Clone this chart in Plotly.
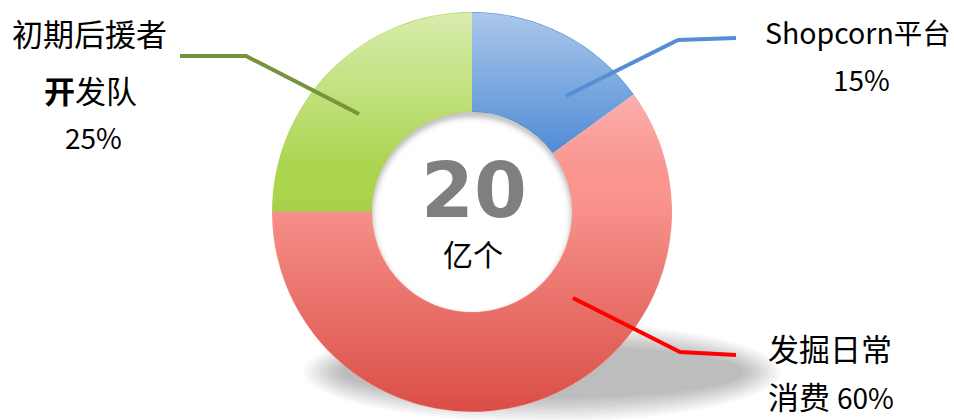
import base64
import plotly.graph_objects as go

# ---------------- data ----------------
labels = ["Shopcorn平台", "发掘日常消费", "初期后援者开发队"]
values = [15, 60, 25]
slice_colors = ["#4484D3", "#FA948F", "#AAD54C"]
line_colors = ["#558ED5", "#FF0000", "#77933C"]
label_lines = [["Shopcorn平台"], ["发掘日常", "消费"], ["初期后援者", "<b>开</b>发队"]]
center_value = "20"
center_unit = "亿个"

# ---------------- layout constants (pixels) ----------------
W, H = 954, 420
CX, CY, R = 472, 212, 200
HOLE = 0.5
FONT = "Noto Sans CJK SC"


def px(x):
    return x / W


def py(y):
    return 1 - y / H


fig = go.Figure(
    go.Pie(
        labels=labels,
        values=values,
        hole=HOLE,
        sort=False,
        direction="clockwise",
        rotation=0,
        marker=dict(colors=slice_colors, line=dict(width=0)),
        textinfo="none",
        hoverinfo="label+percent",
        showlegend=False,
        domain=dict(x=[px(CX - R), px(CX + R)], y=[py(CY + R), py(CY - R)]),
    )
)

shapes = []
# soft shadow under the donut (stacked translucent ellipses)
for i in range(10):
    rx = 238 - i * 4
    ry = 50 - i * 2.6
    sx, sy = 542, 372
    shapes.append(dict(type="circle", xref="paper", yref="paper",
                       x0=px(sx - rx), x1=px(sx + rx), y0=py(sy + ry), y1=py(sy - ry),
                       fillcolor="rgba(0,0,0,0.027)", line=dict(width=0), layer="below"))

# leader lines (decorations)
leaders = [
    [(566, 96), (678, 40), (736, 38)],
    [(573, 298), (680, 352), (736, 355)],
    [(359, 114), (246, 56), (180, 56)],
]
for pts, col in zip(leaders, line_colors):
    path = "M " + " L ".join(f"{px(x):.5f},{py(y):.5f}" for x, y in pts)
    shapes.append(dict(type="path", xref="paper", yref="paper", path=path,
                       line=dict(color=col, width=4), layer="above"))

# gradient shading overlay for the ring + inner shadow of the hole
svg = f'''<svg xmlns="http://www.w3.org/2000/svg" width="{W}" height="{H}" viewBox="0 0 {W} {H}">
<defs>
<linearGradient id="g" gradientUnits="userSpaceOnUse" x1="0" y1="{CY-R}" x2="0" y2="{CY+R}">
<stop offset="0" stop-color="#ffffff" stop-opacity="0.55"/>
<stop offset="0.40" stop-color="#ffffff" stop-opacity="0"/>
<stop offset="0.46" stop-color="rgb(190,20,10)" stop-opacity="0"/>
<stop offset="1" stop-color="rgb(190,20,10)" stop-opacity="0.55"/>
</linearGradient>
<filter id="b" x="-20%" y="-20%" width="140%" height="140%"><feGaussianBlur stdDeviation="3"/></filter>
<clipPath id="c"><circle cx="{CX}" cy="{CY}" r="{R*HOLE}"/></clipPath>
</defs>
<circle cx="{CX}" cy="{CY}" r="{R*(1+HOLE)/2}" fill="none" stroke="url(#g)" stroke-width="{R*(1-HOLE)-1}"/>
<g clip-path="url(#c)"><circle cx="{CX}" cy="{CY+4}" r="{R*HOLE+3}" fill="none" stroke="rgba(0,0,0,0.35)" stroke-width="6" filter="url(#b)"/></g>
</svg>'''
src = "data:image/svg+xml;base64," + base64.b64encode(svg.encode()).decode()

annotations = []


def add_text(text, x, y, size=31, anchor="center", yanchor="middle", color="#000000", family=FONT):
    annotations.append(dict(text=text, x=px(x), y=py(y), xref="paper", yref="paper",
                            xanchor=anchor, yanchor=yanchor, showarrow=False,
                            font=dict(family=family, size=size, color=color)))


pct = [f"{v}%" for v in values]
# Shopcorn
add_text(label_lines[0][0], 858, 32, size=28.5)
add_text(pct[0], 861, 79, size=28)
# 发掘日常消费
add_text(label_lines[1][0], 766, 347, anchor="left")
add_text(f"{label_lines[1][1]} <span style='font-size:28px'>{pct[1]}</span>", 766, 420,
         anchor="left", yanchor="bottom")
# 初期后援者开发队
add_text(label_lines[2][0], 89, 33)
add_text(label_lines[2][1], 90, 89)
add_text(pct[2], 93, 137, size=28)
# centre
add_text(f"<b>{center_value}</b>", 474, 191, size=76, color="#7F7F7F", family="DejaVu Sans")
add_text(center_unit, 473, 253, size=30)

fig.update_layout(
    width=W, height=H,
    margin=dict(l=0, r=0, t=0, b=0),
    paper_bgcolor="white", plot_bgcolor="white",
    shapes=shapes,
    annotations=annotations,
    images=[dict(source=src, xref="paper", yref="paper", x=0, y=1, sizex=1, sizey=1,
                 xanchor="left", yanchor="top", sizing="stretch", layer="above")],
    showlegend=False,
)

fig.write_html(
    "out.html",
    config={"displayModeBar": False},
    post_script="document.body.style.margin='0';document.body.style.overflow='hidden';",
)
